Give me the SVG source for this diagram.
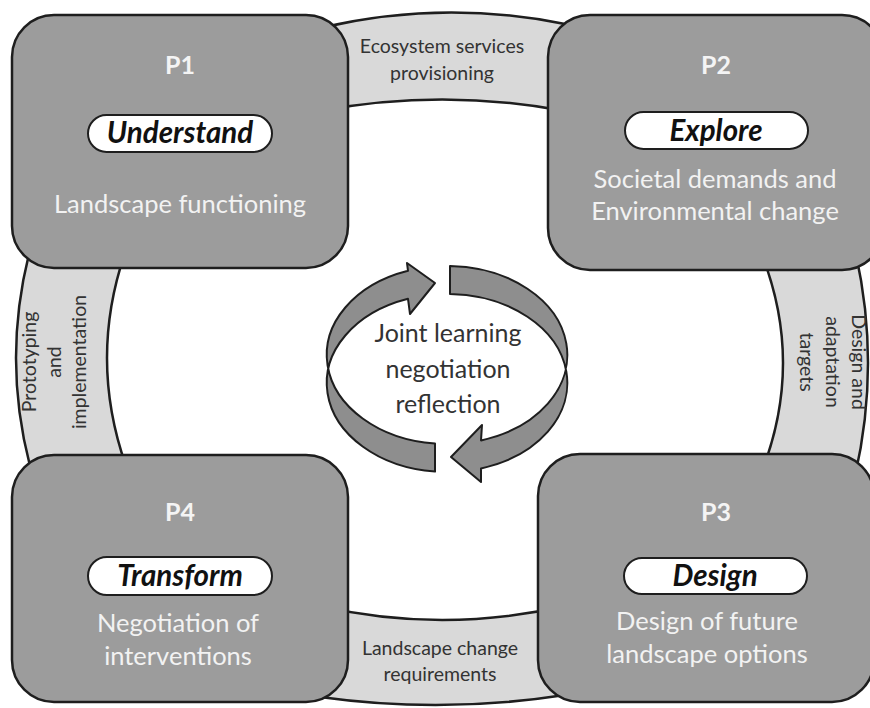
<svg xmlns="http://www.w3.org/2000/svg" width="870" height="708" viewBox="0 0 870 708">
<style>
.ring{fill:#d9d9d9;stroke:#1e1e1e;stroke-width:2.5}
.box{fill:#9c9c9c;stroke:#1e1e1e;stroke-width:2.5}
.pill{fill:#ffffff;stroke:#1e1e1e;stroke-width:2}
.cyc{fill:#8e8e8e;stroke:#1e1e1e;stroke-width:2;stroke-linejoin:round}
.pl{font-family:Lato,"Liberation Sans",sans-serif;font-weight:bold;font-size:25px;fill:#f4f4f4;text-anchor:middle}
.pv{font-family:Lato,"Liberation Sans",sans-serif;font-weight:bold;font-style:italic;font-size:29.5px;fill:#111;text-anchor:middle}
.bd{font-family:Lato,"Liberation Sans",sans-serif;font-size:25.5px;fill:#f2f2f2;text-anchor:middle}
.rl{font-family:Lato,"Liberation Sans",sans-serif;font-size:19.5px;fill:#333;text-anchor:middle}
.ct{font-family:Lato,"Liberation Sans",sans-serif;font-size:25px;fill:#333;text-anchor:middle}
</style>
<rect width="870" height="708" fill="#ffffff"/>
<g id="connectors">
  <path class="ring" d="M320,28 Q442,-1 565,24 L565,111 Q442,88 320,111 Z"/>
  <path class="ring" d="M855,250 Q881,363 855,476 L760,476 Q806,363 760,250 Z"/>
  <path class="ring" d="M565,695 Q442,714 320,697 L320,606 Q442,634 565,606 Z"/>
  <path class="ring" d="M30,466 Q2,358 30,250 L126,250 Q88,358 126,466 Z"/>
  <text class="rl" x="442" y="53">Ecosystem services</text>
  <text class="rl" x="442" y="80">provisioning</text>
  <g transform="translate(852,362) rotate(90)"><text class="rl" x="0" y="0">Design and</text></g>
  <g transform="translate(826,362) rotate(90)"><text class="rl" x="0" y="0">adaptation</text></g>
  <g transform="translate(800,362) rotate(90)"><text class="rl" x="0" y="0">targets</text></g>
  <text class="rl" x="440" y="655">Landscape change</text>
  <text class="rl" x="440" y="681">requirements</text>
  <g transform="translate(36,362) rotate(-90)"><text class="rl" x="0" y="0">Prototyping</text></g>
  <g transform="translate(61,362) rotate(-90)"><text class="rl" x="0" y="0">and</text></g>
  <g transform="translate(86,362) rotate(-90)"><text class="rl" x="0" y="0">implementation</text></g>
</g>
<g id="cycle">
  <path class="cyc" d="M435,443.6 A120,89 0 0 1 408,270.8 L407,263 L435,283 L410,314 L408,298.8 A120,89 0 0 0 435,471.6 Z"/>
  <path class="cyc" d="M450,266 A120,89 0 0 1 481,440.4 L482,425 L451,457 L481,482 L481,468.4 A120,89 0 0 0 450,294 Z"/>
  <text class="ct" x="448" y="342">Joint learning</text>
  <text class="ct" x="448" y="378">negotiation</text>
  <text class="ct" x="448" y="413">reflection</text>
</g>
<g id="P1">
  <rect class="box" x="12" y="15" width="336" height="253" rx="42"/>
  <text class="pl" x="180" y="74">P1</text>
  <rect class="pill" x="88" y="115" width="184" height="37" rx="18.5"/>
  <text class="pv" x="180" y="143">Understand</text>
  <text class="bd" x="180" y="213">Landscape functioning</text>
</g>
<g id="P2">
  <rect class="box" x="548" y="15" width="336" height="255" rx="42"/>
  <text class="pl" x="716" y="74">P2</text>
  <rect class="pill" x="625" y="112" width="183" height="37" rx="18.5"/>
  <text class="pv" x="716" y="141">Explore</text>
  <text class="bd" x="715" y="188">Societal demands and</text>
  <text class="bd" x="715" y="220">Environmental change</text>
</g>
<g id="P3">
  <rect class="box" x="538" y="454" width="336" height="248" rx="42"/>
  <text class="pl" x="716" y="521">P3</text>
  <rect class="pill" x="624" y="558" width="183" height="36" rx="18"/>
  <text class="pv" x="715" y="586">Design</text>
  <text class="bd" x="707" y="630">Design of future</text>
  <text class="bd" x="707" y="663">landscape options</text>
</g>
<g id="P4">
  <rect class="box" x="12" y="455" width="336" height="247" rx="42"/>
  <text class="pl" x="180" y="521">P4</text>
  <rect class="pill" x="88" y="557" width="184" height="38" rx="19"/>
  <text class="pv" x="180" y="586">Transform</text>
  <text class="bd" x="178" y="632">Negotiation of</text>
  <text class="bd" x="178" y="665">interventions</text>
</g>
</svg>
